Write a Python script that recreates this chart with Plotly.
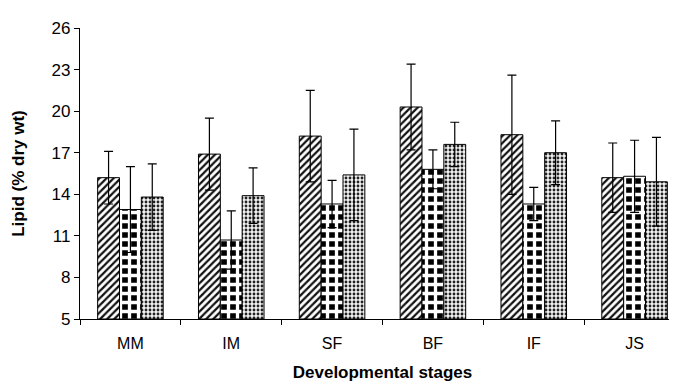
import plotly.graph_objects as go

stages = ["MM", "IM", "SF", "BF", "IF", "JS"]

lipid_a = [15.2, 16.9, 18.2, 20.3, 18.3, 15.2]
lipid_b = [12.9, 10.7, 13.3, 15.8, 13.3, 15.3]
lipid_c = [13.8, 13.9, 15.4, 17.6, 17.0, 14.9]

err_a = [1.9, 2.6, 3.3, 3.1, 4.3, 2.5]
err_b = [3.1, 2.1, 1.7, 1.4, 1.2, 2.6]
err_c = [2.4, 2.0, 3.3, 1.6, 2.3, 3.2]

y_ticks = [5, 8, 11, 14, 17, 20, 23, 26]
y_floor = 5

font_main = "Liberation Sans, Arial, sans-serif"

series = [
    (lipid_a, err_a, {"shape": "/", "size": 5, "solidity": 0.45, "fgcolor": "#111", "bgcolor": "white", "fgopacity": 1}),
    (lipid_b, err_b, {"shape": "+", "size": 9, "solidity": 0.6, "fgcolor": "white", "bgcolor": "#000", "fgopacity": 1}),
    (lipid_c, err_c, {"shape": ".", "size": 4, "solidity": 0.4, "fgcolor": "#222", "bgcolor": "#f2f2f2", "fgopacity": 1}),
]

fig = go.Figure()
for values, errs, pattern in series:
    fig.add_trace(
        go.Bar(
            x=stages,
            y=[v - y_floor for v in values],
            base=y_floor,
            marker={"color": "white", "pattern": pattern, "line": {"color": "black", "width": 1}},
            error_y={"type": "data", "array": errs, "color": "black", "thickness": 1.2, "width": 4.5},
            showlegend=False,
        )
    )

fig.update_layout(
    width=677,
    height=387,
    barmode="group",
    bargap=0.35,
    bargroupgap=0,
    plot_bgcolor="white",
    paper_bgcolor="white",
    margin={"l": 72, "r": 0, "t": 20, "b": 76},
    font={"family": font_main, "color": "black", "size": 16},
)
fig.update_xaxes(
    showline=True,
    linecolor="black",
    linewidth=1.2,
    ticks="outside",
    tickson="boundaries",
    ticklen=5,
    tickcolor="black",
    tickfont={"size": 16},
    ticklabelstandoff=10,
    title={"text": "<b>Developmental stages</b>", "font": {"size": 17}, "standoff": 14},
)
fig.update_yaxes(
    range=[5, 26],
    tickvals=y_ticks,
    showline=True,
    linecolor="black",
    linewidth=1.2,
    ticks="outside",
    ticklen=5,
    tickcolor="black",
    showgrid=False,
    zeroline=False,
    tickfont={"size": 17},
    title={"text": "<b>Lipid (% dry wt)</b>", "font": {"size": 17}, "standoff": 22},
)

fig.write_html("out.html")
